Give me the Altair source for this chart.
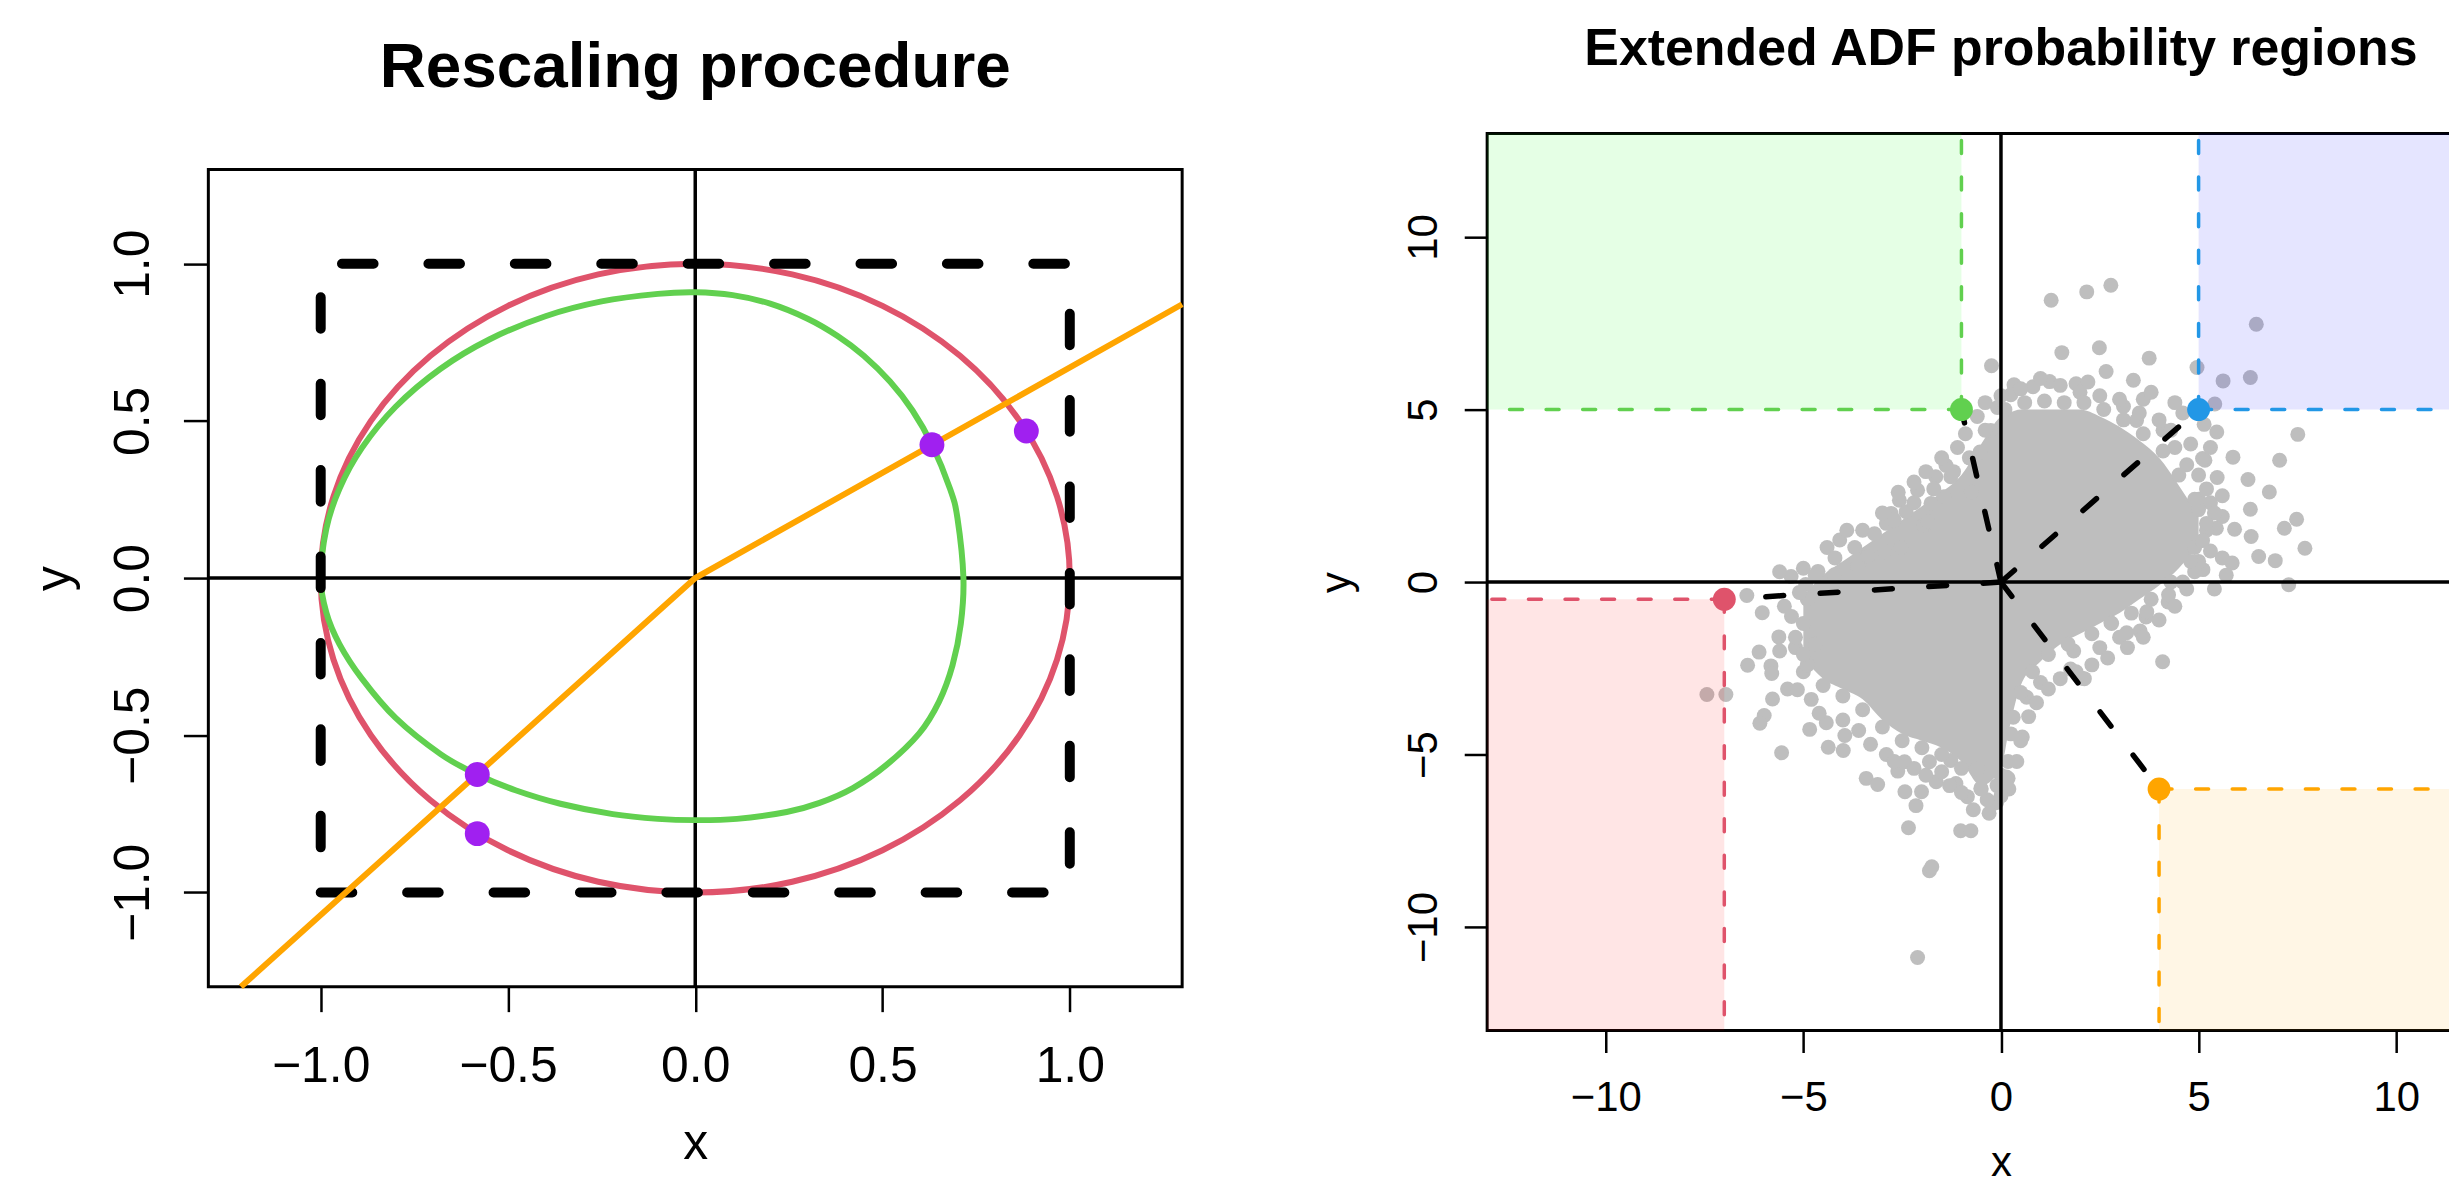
import altair as alt
import pandas as pd

# ---------------- overall canvas (view px) ----------------
W, H = 2449, 1180
FONT = "Liberation Sans"

# ---------------- left panel data ----------------
TITLE_LEFT = "Rescaling procedure"
LEFT_LIM = [-1.3, 1.3]
LEFT_TICKS = [-1.0, -0.5, 0.0, 0.5, 1.0]

CIRCLE_X = [1.0, 0.966, 0.866, 0.707, 0.5, 0.259, 0.0, -0.259, -0.5, -0.707, -0.866, -0.966,
            -1.0, -0.966, -0.866, -0.707, -0.5, -0.259, 0.0, 0.259, 0.5, 0.707, 0.866, 0.966]
CIRCLE_Y = [0.0, 0.259, 0.5, 0.707, 0.866, 0.966, 1.0, 0.966, 0.866, 0.707, 0.5, 0.259,
            0.0, -0.259, -0.5, -0.707, -0.866, -0.966, -1.0, -0.966, -0.866, -0.707, -0.5, -0.259]

GREEN_X = [0.716, 0.70, 0.68, 0.632, 0.58, 0.52, 0.45, 0.38, 0.30, 0.20, 0.10, 0.0,
           -0.10, -0.25, -0.40, -0.55, -0.68, -0.80, -0.89, -0.95, -0.985, -1.0,
           -0.985, -0.95, -0.89, -0.80, -0.68, -0.582, -0.48, -0.36, -0.22, -0.10, 0.0,
           0.111, 0.244, 0.332, 0.421, 0.509, 0.598, 0.651, 0.687, 0.709]
GREEN_Y = [0.0, 0.191, 0.285, 0.424, 0.533, 0.625, 0.707, 0.770, 0.825, 0.873, 0.900, 0.909,
           0.904, 0.880, 0.833, 0.759, 0.666, 0.545, 0.414, 0.284, 0.157, 0.0,
           -0.11, -0.21, -0.32, -0.445, -0.56, -0.625, -0.675, -0.718, -0.751, -0.766, -0.770,
           -0.766, -0.744, -0.715, -0.668, -0.596, -0.494, -0.393, -0.277, -0.146]

SQUARE_X = [-1.0, 1.0, 1.0, -1.0, -1.0]
SQUARE_Y = [-1.0, -1.0, 1.0, 1.0, -1.0]

ORANGE_X = [-1.213, 0.0, 1.3]
ORANGE_Y = [-1.3, 0.0, 0.871]

PURPLE_X = [0.632, 0.884, -0.582, -0.582]
PURPLE_Y = [0.424, 0.468, -0.625, -0.813]

# ---------------- right panel data ----------------
TITLE_RIGHT = "Extended ADF probability regions"
RIGHT_LIM = [-13, 13]
RIGHT_TICKS = [-10, -5, 0, 5, 10]

REGION_NAMES = ["green", "blue", "red", "orange"]
REGION_PX = [-1.0, 5.0, -7.0, 4.0]
REGION_PY = [5.0, 5.0, -0.5, -6.0]
REGION_EDGE_X = [-13, 13, -13, 13]
REGION_EDGE_Y = [13, 13, -13, -13]
REGION_LINE_COLORS = ["#61D04F", "#2297E6", "#DF536B", "#FFA500"]
REGION_FILL_COLORS = ["#00FF00", "#0000FF", "#FF0000", "#FFA500"]

# dense core of the cloud: lower / upper edge per x
CORE_X = [-5.0, -4.5, -4.0, -3.5, -3.0, -2.5, -2.0, -1.5, -1.0, -0.5, 0.0, 0.2, 0.5, 1.0, 1.5, 2.0,
          2.5, 3.0, 3.5, 4.0, 4.5, 5.0]
CORE_LO = [-2.2, -2.8, -3.1, -3.4, -4.0, -4.4, -4.6, -4.8, -5.2, -5.9, -5.4, -4.3, -3.0, -2.3, -1.8,
           -1.5, -1.2, -0.9, -0.5, -0.1, 0.4, 1.1]
CORE_HI = [-0.4, 0.2, 0.6, 1.0, 1.4, 1.8, 2.2, 2.6, 3.1, 4.0, 4.8, 4.9, 5.0, 5.0, 5.0, 5.0, 4.8, 4.5,
           4.1, 3.6, 2.8, 1.9]

SCATTER_PTS = [
    # upper-left side
    (-0.24, 6.27), (-0.09, 5.06), (-0.26, 4.39), (-0.53, 3.77), (-1.39, 3.38), (-1.65, 3.05),
    (-1.27, 3.05), (-2.11, 2.66), (-2.57, 2.37), (-2.40, 2.04), (-2.78, 1.99), (-2.90, 1.70),
    (-1.77, 2.28), (-1.95, 1.65), (-1.85, 1.75), (-1.44, 2.47), (-4.08, 1.22), (-4.63, 0.31),
    (-5.31, 0.16), (-4.94, -0.07), (-6.43, -0.39), (-3.37, 0.74), (-2.95, 0.88), (-2.53, 1.0),
    (-3.62, 0.45), (-4.21, 0.21), (-0.75, 2.6),
    (-3.5, 1.5), (-3.0, 2.0), (-2.6, 2.6), (-2.2, 2.9), (-1.9, 3.2), (-1.5, 3.6), (-1.1, 3.9),
    (-0.9, 4.3), (-0.6, 4.8), (-0.4, 5.2), (-4.4, 1.0), (-3.9, 1.5), (-5.6, 0.3), (-5.0, 0.4),
    # top / upper-right side
    (1.27, 8.17), (2.17, 8.41), (2.78, 8.60), (1.54, 6.65), (2.49, 6.79), (3.75, 6.49), (2.66, 6.10),
    (4.96, 6.22), (6.46, 7.47), (5.62, 5.83), (6.31, 5.93), (5.41, 5.16), (3.35, 5.85), (0.33, 5.72),
    (0.81, 5.66), (1.23, 5.81), (1.9, 5.75), (2.2, 5.8), (3.10, 5.09), (3.43, 4.68), (3.6, 5.3),
    (3.8, 5.5), (7.51, 4.28), (5.87, 3.62), (7.05, 3.53), (5.16, 3.53), (5.47, 3.03), (6.25, 2.97),
    (6.79, 2.61), (5.6, 2.5), (5.3, 2.3), (6.31, 2.11), (7.48, 1.82), (7.17, 1.56), (5.45, 1.56),
    (5.91, 1.53), (6.33, 1.32), (7.69, 0.98), (6.52, 0.74), (6.94, 0.62), (5.6, 0.7), (5.85, 0.55),
    (7.28, -0.08), (5.11, 0.36), (5.0, 2.4), (5.0, 2.1), (5.14, 4.57), (5.46, 4.35), (5.1, 3.58),
    (0.25, 5.43), (4.6, 4.9), (4.4, 5.2), (4.1, 4.4), (4.8, 4.0), (5.3, 3.9), (5.6, 1.9), (4.9, 1.0),
    (5.3, 0.9), (5.7, 0.2), (5.4, -0.2),
    (0.0, 5.4), (0.5, 5.6), (1.0, 5.9), (1.5, 5.7), (2.0, 5.5), (2.5, 5.4), (3.0, 5.3), (3.5, 4.9),
    (4.0, 4.7), (4.3, 4.4), (4.4, 3.9), (4.7, 3.4), (5.0, 3.1), (5.2, 2.7), (5.4, 2.0), (5.2, 1.5),
    (5.0, 0.6), (4.7, -0.2),
    # lower-right side
    (4.23, -0.58), (4.24, -0.37), (3.67, -1.01), (3.69, -0.86), (3.18, -1.47), (3.52, -1.42),
    (2.78, -1.18), (4.09, -2.31), (1.84, -2.0), (2.05, -2.79), (2.11, -2.8), (1.76, -2.52),
    (1.0, -2.91), (0.65, -3.34), (0.31, -3.92), (0.54, -4.49), (0.18, -5.2), (0.18, -5.69),
    (-0.11, -6.39), (2.5, -1.9), (3.0, -1.6), (4.6, 0.0), (4.9, 0.3),
    (4.4, -0.7), (4.0, -1.1), (3.6, -1.6), (3.2, -1.9), (2.7, -2.2), (2.3, -2.4), (1.9, -2.6),
    (1.5, -2.8), (1.2, -3.1), (0.9, -3.5), (0.7, -3.9), (0.5, -4.6), (0.4, -5.2), (0.2, -6.0),
    # lower-left side
    (-7.44, -3.26), (-6.96, -3.26), (-6.41, -2.41), (-6.12, -2.03), (-5.82, -2.43), (-5.80, -2.65),
    (-6.04, -0.89), (-5.48, -0.70), (-5.62, -1.59), (-5.78, -3.39), (-5.4, -3.1), (-5.15, -3.12),
    (-5.99, -3.87), (-6.10, -4.09), (-5.55, -4.95), (-4.84, -4.27), (-4.42, -4.08), (-4.37, -4.79),
    (-3.99, -4.88), (-3.95, -4.45), (-3.41, -5.69), (-3.12, -5.87), (-2.61, -5.48), (-2.44, -5.21),
    (-2.43, -6.08), (-2.01, -6.08), (-2.15, -6.48), (-2.34, -7.12), (-1.81, -8.37), (-1.75, -8.25),
    (-1.02, -7.21), (-0.76, -7.21), (-2.11, -10.88), (-1.81, -5.21), (-1.64, -5.79), (-1.14, -5.84),
    (-0.85, -6.22), (-0.51, -5.98), (-0.18, -6.41), (-0.6, -5.41), (-1.27, -5.17), (-0.35, -6.31),
    (0.14, -5.65), (-5.2, -1.9), (-5.0, -2.6), (-4.8, -3.4),
    (-5.0, -1.2), (-4.7, -1.8), (-4.9, -0.5), (-5.6, -2.0), (-4.6, -3.8), (-4.0, -4.0), (-3.6, -4.3),
    (-3.3, -4.7), (-2.9, -5.0), (-2.7, -5.2), (-2.2, -5.4), (-1.9, -5.6), (-1.5, -5.5), (-1.3, -5.9),
    (-1.0, -6.1), (-0.7, -6.6), (-0.3, -6.7), (-0.1, -5.9), (0.0, -6.2),
    # edge of the dense core
    (-4.9, -2.4), (-4.5, -3.0), (-4.0, -3.3), (-3.5, -3.7), (-3.0, -4.2), (-2.5, -4.6), (-2.0, -4.8),
    (-1.5, -5.0), (-1.0, -5.4), (-0.5, -6.0), (0.0, -5.6), (0.25, -4.4), (0.5, -3.2), (0.8, -2.6),
    (1.2, -2.1), (1.7, -1.8), (2.3, -1.5), (2.8, -1.2), (3.3, -0.9), (3.8, -0.5), (4.3, 0.0),
    (4.8, 0.6), (5.1, 1.2), (-5.1, -0.3), (-4.7, 0.2), (-4.2, 0.7), (-3.7, 1.0), (-3.2, 1.4),
    (-2.7, 1.8), (-2.2, 2.3), (-1.7, 2.7), (-1.2, 3.2), (-0.8, 3.6), (-0.4, 4.4), (0.1, 5.0),
    (0.6, 5.2), (1.1, 5.25), (1.6, 5.2), (2.1, 5.2), (2.6, 5.0), (3.1, 4.7), (3.6, 4.3), (4.1, 3.8),
    (4.5, 3.1), (4.9, 2.4), (5.2, 1.7), (-5.3, -1.0), (-5.2, -1.6), (-5.0, -2.1),
]
SCATTER_X = [p[0] for p in SCATTER_PTS]
SCATTER_Y = [p[1] for p in SCATTER_PTS]

# ---------------- scales: pixel ranges inside the view ----------------
LXS = alt.Scale(domain=LEFT_LIM, range=[201, 1178], nice=False, zero=False)
LYS = alt.Scale(domain=LEFT_LIM, range=[980, 160], nice=False, zero=False)
RXS = alt.Scale(domain=RIGHT_LIM, range=[1484, 2515], nice=False, zero=False)
RYS = alt.Scale(domain=RIGHT_LIM, range=[1024, 124], nice=False, zero=False)


def x_axis(offset, ticks, fmt, fs, tick, pad, title_x, title_y):
    return alt.Axis(orient="bottom", offset=offset, values=ticks, format=fmt, domain=False,
                    grid=False, ticks=True, tickSize=tick, tickWidth=2.5, tickColor="black",
                    labelFont=FONT, labelFontSize=fs, labelColor="black", labelAlign="center",
                    labelBaseline="alphabetic", labelPadding=pad, labelFlush=False,
                    labelOverlap=False, title="x", titleFont=FONT, titleFontSize=fs,
                    titleFontWeight="normal", titleColor="black", titleAngle=0,
                    titleAlign="center", titleBaseline="alphabetic", titleX=title_x,
                    titleY=title_y, zindex=1)


def y_axis(offset, ticks, fmt, fs, tick, pad, title_x, title_y):
    return alt.Axis(orient="left", offset=offset, values=ticks, format=fmt, domain=False,
                    grid=False, ticks=True, tickSize=tick, tickWidth=2.5, tickColor="black",
                    labelFont=FONT, labelFontSize=fs, labelColor="black", labelAngle=270,
                    labelAlign="center", labelBaseline="alphabetic", labelPadding=pad,
                    labelFlush=False, labelOverlap=False, title="y", titleFont=FONT,
                    titleFontSize=fs, titleFontWeight="normal", titleColor="black",
                    titleAngle=270, titleAlign="center", titleBaseline="alphabetic",
                    titleX=title_x, titleY=title_y, zindex=1)


L_XAXIS = x_axis(980 - H, LEFT_TICKS, ".1f", 50, 25, 70, (201 + 1178) / 2, 172)
L_YAXIS = y_axis(-201, LEFT_TICKS, ".1f", 50, 25, 35, -139, (160 + 980) / 2)
R_XAXIS = x_axis(1024 - H, RIGHT_TICKS, "d", 42, 22, 58, (1484 + 2515) / 2, 145)
R_YAXIS = y_axis(-1484, RIGHT_TICKS, "d", 42, 23, 28, -138, (124 + 1024) / 2)


# same scale + axis on every layer of a panel so that they merge cleanly
def LX(f):
    return alt.X(f, type="quantitative", scale=LXS, axis=L_XAXIS)


def LY(f):
    return alt.Y(f, type="quantitative", scale=LYS, axis=L_YAXIS)


def RX(f):
    return alt.X(f, type="quantitative", scale=RXS, axis=R_XAXIS)


def RY(f):
    return alt.Y(f, type="quantitative", scale=RYS, axis=R_YAXIS)


# ================= left panel =================
frame_l = alt.Chart(pd.DataFrame({"x1": [LEFT_LIM[0]], "x2": [LEFT_LIM[1]],
                                  "y1": [LEFT_LIM[0]], "y2": [LEFT_LIM[1]]})).mark_rect(
    filled=False, stroke="black", strokeWidth=3).encode(
    x=LX("x1"), x2="x2:Q", y=LY("y1"), y2="y2:Q")

zero_df_l = pd.DataFrame({"z": [0.0], "lo": [LEFT_LIM[0]], "hi": [LEFT_LIM[1]]})
vline_l = alt.Chart(zero_df_l).mark_rule(color="black", strokeWidth=3.5).encode(
    x=LX("z"), y=LY("lo"), y2="hi:Q")
hline_l = alt.Chart(zero_df_l).mark_rule(color="black", strokeWidth=3.5).encode(
    y=LY("z"), x=LX("lo"), x2="hi:Q")

circle = alt.Chart(pd.DataFrame({"i": range(len(CIRCLE_X)), "x": CIRCLE_X, "y": CIRCLE_Y})).mark_line(
    color="#DF536B", strokeWidth=6, interpolate="cardinal-closed").encode(
    x=LX("x"), y=LY("y"), order="i:Q")

green = alt.Chart(pd.DataFrame({"i": range(len(GREEN_X)), "x": GREEN_X, "y": GREEN_Y})).mark_line(
    color="#61D04F", strokeWidth=6, interpolate="cardinal-closed").encode(
    x=LX("x"), y=LY("y"), order="i:Q")

square = alt.Chart(pd.DataFrame({"i": range(len(SQUARE_X)), "x": SQUARE_X, "y": SQUARE_Y})).mark_line(
    color="black", strokeWidth=10, strokeDash=[31.7, 55], strokeCap="round").encode(
    x=LX("x"), y=LY("y"), order="i:Q")

orange = alt.Chart(pd.DataFrame({"i": range(len(ORANGE_X)), "x": ORANGE_X, "y": ORANGE_Y})).mark_line(
    color="#FFA500", strokeWidth=6).encode(x=LX("x"), y=LY("y"), order="i:Q")

purple = alt.Chart(pd.DataFrame({"x": PURPLE_X, "y": PURPLE_Y})).mark_circle(
    color="#A020F0", size=625, opacity=1).encode(x=LX("x"), y=LY("y"))

title_l = alt.Chart(pd.DataFrame({"x": [0.0], "y": [LEFT_LIM[1]], "t": [TITLE_LEFT]})).mark_text(
    font=FONT, fontSize=64, fontWeight="bold", color="black", align="center",
    baseline="alphabetic", dy=-83).encode(x=LX("x"), y=LY("y"), text="t:N")

left = alt.layer(frame_l, vline_l, hline_l, circle, green, square, orange, purple, title_l)

# ================= right panel =================
frame_r = alt.Chart(pd.DataFrame({"x1": [RIGHT_LIM[0]], "x2": [RIGHT_LIM[1]],
                                  "y1": [RIGHT_LIM[0]], "y2": [RIGHT_LIM[1]]})).mark_rect(
    filled=False, stroke="black", strokeWidth=3).encode(
    x=RX("x1"), x2="x2:Q", y=RY("y1"), y2="y2:Q")

core = alt.Chart(pd.DataFrame({"x": CORE_X, "lo": CORE_LO, "hi": CORE_HI})).mark_area(
    color="#BEBEBE", opacity=1, interpolate="monotone").encode(x=RX("x"), y=RY("lo"), y2="hi:Q")

scatter = alt.Chart(pd.DataFrame({"x": SCATTER_X, "y": SCATTER_Y})).mark_circle(
    color="#BEBEBE", size=225, opacity=1).encode(x=RX("x"), y=RY("y"))

zero_df_r = pd.DataFrame({"z": [0.0], "lo": [RIGHT_LIM[0]], "hi": [RIGHT_LIM[1]]})
vline_r = alt.Chart(zero_df_r).mark_rule(color="black", strokeWidth=3.5).encode(
    x=RX("z"), y=RY("lo"), y2="hi:Q")
hline_r = alt.Chart(zero_df_r).mark_rule(color="black", strokeWidth=3.5).encode(
    y=RY("z"), x=RX("lo"), x2="hi:Q")

regions = pd.DataFrame({"region": REGION_NAMES, "px": REGION_PX, "py": REGION_PY,
                        "ex": REGION_EDGE_X, "ey": REGION_EDGE_Y})

line_color = alt.Color("region:N", scale=alt.Scale(domain=REGION_NAMES, range=REGION_LINE_COLORS),
                       legend=None)
fill_color = alt.Fill("region:N", scale=alt.Scale(domain=REGION_NAMES, range=REGION_FILL_COLORS),
                      legend=None)

rects = alt.Chart(regions).mark_rect(fillOpacity=0.1, strokeWidth=0).encode(
    x=RX("px"), x2="ex:Q", y=RY("py"), y2="ey:Q", fill=fill_color)

seg_rows = []
for n, px, py, ex, ey in zip(REGION_NAMES, REGION_PX, REGION_PY, REGION_EDGE_X, REGION_EDGE_Y):
    seg_rows.append({"region": n, "x": px, "y": py, "x2": ex, "y2": py})
    seg_rows.append({"region": n, "x": px, "y": py, "x2": px, "y2": ey})
segs = pd.DataFrame(seg_rows)

edge_lines = alt.Chart(segs).mark_rule(strokeWidth=3.5, strokeDash=[13, 23.7],
                                       strokeCap="round").encode(
    x=RX("x"), y=RY("y"), x2="x2:Q", y2="y2:Q", color=line_color)

origin_df = pd.DataFrame({"ox": [0.0] * len(REGION_PX), "oy": [0.0] * len(REGION_PY),
                          "px": REGION_PX, "py": REGION_PY})
spokes = alt.Chart(origin_df).mark_rule(color="black", strokeWidth=5.5, strokeDash=[18, 36.6],
                                        strokeCap="round").encode(
    x=RX("ox"), y=RY("oy"), x2="px:Q", y2="py:Q")

corner_pts = alt.Chart(regions).mark_circle(size=529, opacity=1).encode(
    x=RX("px"), y=RY("py"), color=line_color)

title_r = alt.Chart(pd.DataFrame({"x": [0.0], "y": [RIGHT_LIM[1]], "t": [TITLE_RIGHT]})).mark_text(
    font=FONT, fontSize=52, fontWeight="bold", color="black", align="center",
    baseline="alphabetic", dy=-69).encode(x=RX("x"), y=RY("y"), text="t:N")

right = alt.layer(frame_r, core, scatter, vline_r, hline_r, rects, edge_lines, spokes,
                  corner_pts, title_r)

chart = alt.layer(left, right).resolve_scale(
    x="independent", y="independent"
).properties(
    width=W, height=H, padding=0, autosize=alt.AutoSizeParams(type="none")
).configure_view(strokeWidth=0)

chart.save("out.html", embed_options={"renderer": "svg", "actions": False})
